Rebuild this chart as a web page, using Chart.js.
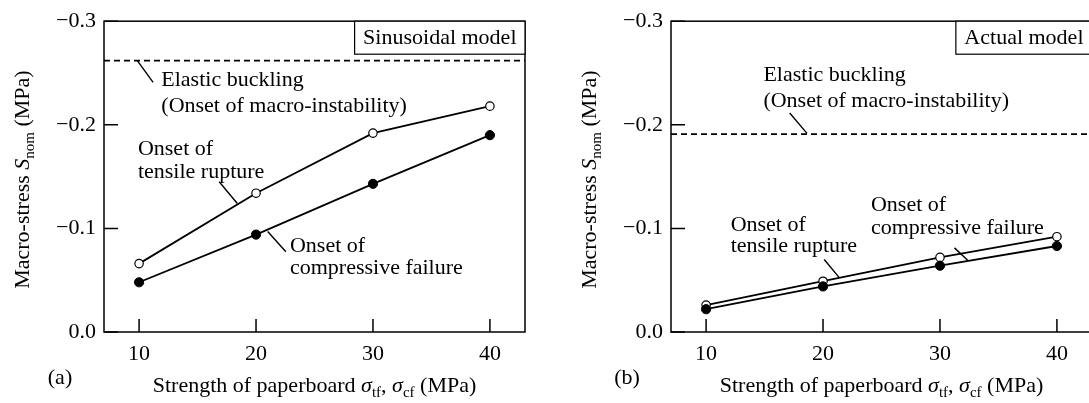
<!DOCTYPE html>
<html>
<head>
<meta charset="utf-8">
<script src="https://cdn.jsdelivr.net/npm/chart.js@4.4.1/dist/chart.umd.min.js"></script>
<style>
  html, body { margin: 0; padding: 0; background: #fff; overflow: hidden; }
  #wrap { position: relative; width: 1089px; height: 403px; overflow: hidden; }
  canvas { position: absolute; top: 0; }
  #chartA { left: 0; }
  #chartB { left: 567px; }
</style>
</head>
<body>
<div id="wrap">
  <canvas id="chartA" width="567" height="403"></canvas>
  <canvas id="chartB" width="567" height="403"></canvas>
</div>
<script>
// values (MPa)
var strength = [10, 20, 30, 40];
var sinTensile = [-0.066, -0.134, -0.192, -0.218];
var sinCompressive = [-0.048, -0.094, -0.143, -0.190];
var sinBuckling = -0.262;
var actTensile = [-0.026, -0.049, -0.072, -0.092];
var actCompressive = [-0.022, -0.044, -0.064, -0.083];
var actBuckling = -0.191;
var xTicks = [10, 20, 30, 40];
var yTicks = [0, -0.1, -0.2, -0.3];
var xRange = [7, 43];
var yRange = [-0.3, 0];

var FONT = 'Liberation Serif';

// text notes and leader lines, in data coordinates
var notesA = [
  { x: 11.9, y: -0.243, text: 'Elastic buckling' },
  { x: 11.9, y: -0.218, text: '(Onset of macro-instability)' },
  { x: 9.9, y: -0.1765, text: 'Onset of' },
  { x: 9.9, y: -0.154, text: 'tensile rupture' },
  { x: 22.9, y: -0.083, text: 'Onset of' },
  { x: 22.9, y: -0.062, text: 'compressive failure' }
];
var leadersA = [
  [9.85, -0.262, 11.2, -0.241],
  [16.85, -0.145, 18.4, -0.124],
  [21.0, -0.097, 22.55, -0.0775]
];
var notesB = [
  { x: 14.9, y: -0.248, text: 'Elastic buckling' },
  { x: 14.9, y: -0.2226, text: '(Onset of macro-instability)' },
  { x: 12.1, y: -0.1035, text: 'Onset of' },
  { x: 12.1, y: -0.083, text: 'tensile rupture' },
  { x: 24.1, y: -0.122, text: 'Onset of' },
  { x: 24.1, y: -0.100, text: 'compressive failure' }
];
var leadersB = [
  [17.15, -0.2114, 18.63, -0.1917],
  [20.1, -0.070, 21.37, -0.0527],
  [31.24, -0.0812, 32.37, -0.0692]
];

var yTitle = [{ t: 'Macro-stress ' }, { t: 'S', i: true }, { t: 'nom', sub: true }, { t: ' (MPa)' }];
var xTitle = [{ t: 'Strength of paperboard ' }, { t: '\u03c3', i: true }, { t: 'tf', sub: true },
              { t: ', ' }, { t: '\u03c3', i: true }, { t: 'cf', sub: true }, { t: ' (MPa)' }];

function toPoints(xs, ys) {
  return xs.map(function (x, i) { return { x: x, y: ys[i] }; });
}

function partFont(p, size) {
  var s = p.sub ? Math.round(size * 0.68) : size;
  return (p.i ? 'italic ' : '') + s + 'px "' + FONT + '"';
}

function richWidth(ctx, parts, size) {
  var w = 0;
  parts.forEach(function (p) { ctx.font = partFont(p, size); w += ctx.measureText(p.t).width; });
  return w;
}

// centred at (x, y)
function drawRich(ctx, parts, x, y, size) {
  var cx = x - richWidth(ctx, parts, size) / 2;
  ctx.textAlign = 'left';
  ctx.textBaseline = 'middle';
  parts.forEach(function (p) {
    ctx.font = partFont(p, size);
    ctx.fillText(p.t, cx, p.sub ? y + size * 0.3 : y);
    cx += ctx.measureText(p.t).width;
  });
}

var paperPlugin = {
  id: 'paper',
  afterDatasetsDraw: function (chart, args, opts) {
    var ctx = chart.ctx, a = chart.chartArea;
    var xs = chart.scales.x, ys = chart.scales.y;
    ctx.save();
    ctx.strokeStyle = '#000';
    ctx.fillStyle = '#000';

    // frame
    ctx.lineWidth = 1.5;
    ctx.strokeRect(a.left, a.top, a.right - a.left, a.bottom - a.top);

    // inward ticks
    ctx.beginPath();
    xs.ticks.forEach(function (t) {
      var px = xs.getPixelForValue(t.value);
      ctx.moveTo(px, a.bottom);
      ctx.lineTo(px, a.bottom - 13);
    });
    ys.ticks.forEach(function (t) {
      var py = ys.getPixelForValue(t.value);
      ctx.moveTo(a.left, py);
      ctx.lineTo(a.left + 14, py);
    });
    ctx.stroke();

    // leader lines
    ctx.lineWidth = 1.4;
    ctx.beginPath();
    opts.leaders.forEach(function (l) {
      ctx.moveTo(xs.getPixelForValue(l[0]), ys.getPixelForValue(l[1]));
      ctx.lineTo(xs.getPixelForValue(l[2]), ys.getPixelForValue(l[3]));
    });
    ctx.stroke();

    // notes
    ctx.font = '22px "' + FONT + '"';
    ctx.textAlign = 'left';
    ctx.textBaseline = 'middle';
    opts.notes.forEach(function (n) {
      ctx.fillText(n.text, xs.getPixelForValue(n.x), ys.getPixelForValue(n.y));
    });

    // model box
    ctx.font = '22px "' + FONT + '"';
    var bw = ctx.measureText(opts.model).width + 17;
    ctx.fillStyle = '#fff';
    ctx.fillRect(a.right - bw, a.top, bw, 33);
    ctx.fillStyle = '#000';
    ctx.lineWidth = 1.2;
    ctx.strokeRect(a.right - bw, a.top, bw, 33);
    ctx.fillText(opts.model, a.right - bw + 8.5, a.top + 17);

    // axis titles and panel tag
    drawRich(ctx, xTitle, (a.left + a.right) / 2, a.bottom + 54, 22);
    ctx.font = '22px "' + FONT + '"';
    ctx.textAlign = 'center';
    ctx.fillText(opts.tag, 60, a.bottom + 46);
    ctx.translate(23, (a.top + a.bottom) / 2 + 3);
    ctx.rotate(-Math.PI / 2);
    drawRich(ctx, yTitle, 0, 0, 22);
    ctx.restore();
  }
};

function makeChart(id, tensile, compressive, buckling, model, tag, notes, leaders) {
  var ctx = document.getElementById(id).getContext('2d');
  return new Chart(ctx, {
    type: 'line',
    data: {
      datasets: [{
        label: 'Onset of compressive failure',
        data: toPoints(strength, compressive),
        borderColor: '#000',
        borderWidth: 1.8,
        pointRadius: 4.6,
        pointBackgroundColor: '#000',
        pointBorderColor: '#000',
        pointBorderWidth: 1
      }, {
        label: 'Onset of tensile rupture',
        data: toPoints(strength, tensile),
        borderColor: '#000',
        borderWidth: 1.8,
        pointRadius: 4.2,
        pointBackgroundColor: '#fff',
        pointBorderColor: '#000',
        pointBorderWidth: 1.2
      }, {
        label: 'Elastic buckling',
        data: toPoints(xRange, [buckling, buckling]),
        borderColor: '#000',
        borderWidth: 1.7,
        borderDash: [6, 4],
        pointRadius: 0
      }]
    },
    options: {
      responsive: false,
      animation: false,
      devicePixelRatio: 1,
      layout: { padding: { top: 17, right: 42, left: 0, bottom: 0 } },
      plugins: {
        legend: { display: false },
        tooltip: { enabled: false },
        paper: { model: model, tag: tag, notes: notes, leaders: leaders }
      },
      scales: {
        x: {
          type: 'linear',
          min: xRange[0],
          max: xRange[1],
          grid: { display: false, drawTicks: false },
          border: { display: false },
          afterBuildTicks: function (s) { s.ticks = xTicks.map(function (v) { return { value: v }; }); },
          afterFit: function (s) { s.height = 71; },
          ticks: { color: '#000', font: { family: FONT, size: 22 }, padding: 9, maxRotation: 0 }
        },
        y: {
          type: 'linear',
          min: yRange[0],
          max: yRange[1],
          reverse: true,
          grid: { display: false, drawTicks: false },
          border: { display: false },
          afterBuildTicks: function (s) { s.ticks = yTicks.map(function (v) { return { value: v }; }); },
          afterFit: function (s) { s.width = 104; },
          ticks: {
            color: '#000',
            font: { family: FONT, size: 22 },
            padding: 8,
            callback: function (v) { return v.toFixed(1).replace('-', '\u2212'); }
          }
        }
      }
    },
    plugins: [paperPlugin]
  });
}

makeChart('chartA', sinTensile, sinCompressive, sinBuckling, 'Sinusoidal model', '(a)', notesA, leadersA);
makeChart('chartB', actTensile, actCompressive, actBuckling, 'Actual model', '(b)', notesB, leadersB);
</script>
</body>
</html>
